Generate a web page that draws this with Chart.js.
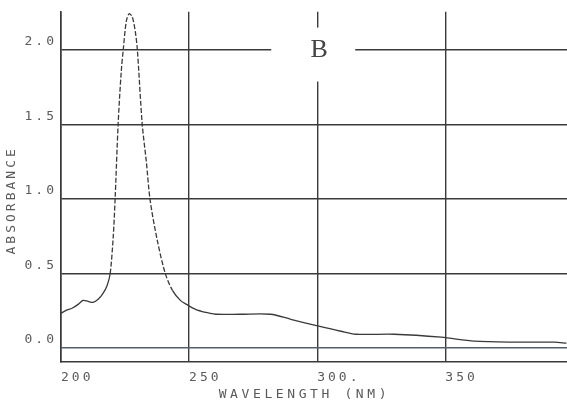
<!DOCTYPE html>
<html>
<head>
<meta charset="utf-8">
<script src="https://cdn.jsdelivr.net/npm/chart.js@4.4.1/dist/chart.umd.min.js"></script>
<style>
  html, body { margin: 0; padding: 0; background: #fff; }
  #wrap { width: 567px; height: 404px; }
</style>
</head>
<body>
<div id="wrap"><canvas id="spec" width="567" height="404"></canvas></div>
<script>
// wavelength (nm) and absorbance
const wavelengths = [200, 202, 204.3, 206.7, 208.6, 210.6, 212.5, 214.5, 216.4, 218, 219.2,
  220.4, 221.1, 222.3, 223.5, 224.3, 225.5, 226.6, 227.8, 229, 229.8, 231.7, 233.3, 234.8,
  237.6, 240.7, 243.5, 246.6, 249, 252.5, 256.4, 260.3, 270, 281.8, 289.7, 300.6, 309.2,
  315.1, 330, 348.4, 361.3, 377, 392.6, 397.3];
const absorbance = [0.233, 0.253, 0.267, 0.293, 0.32, 0.313, 0.307, 0.327, 0.367, 0.42, 0.5,
  0.75, 0.99, 1.5, 1.85, 2.0, 2.19, 2.24, 2.22, 2.12, 2.0, 1.5, 1.25, 0.99,
  0.72, 0.5, 0.387, 0.32, 0.293, 0.26, 0.24, 0.227, 0.227, 0.227, 0.193, 0.147, 0.113,
  0.093, 0.093, 0.073, 0.047, 0.04, 0.04, 0.033];

const xTicks = [200, 250, 300, 350];
const xTickLabels = ['200', '250', '300.', '350'];
const yTicks = [0, 0.5, 1.0, 1.5, 2.0];
const yTickLabels = ['0.0', '0.5', '1.0', '1.5', '2.0'];

const ink = '#3a3a3a';
const textInk = '#5a5a5a';
const mono = '"DejaVu Sans Mono", monospace';

const plotterText = {
  id: 'plotterText',
  beforeDraw(chart) {
    chart.ctx.letterSpacing = '3px';
  },
  afterDraw(chart) {
    const ctx = chart.ctx;
    const xs = chart.scales.x, ys = chart.scales.y;
    ctx.save();
    ctx.fillStyle = textInk;
    ctx.font = '13px ' + mono;
    ctx.letterSpacing = '3.6px';
    ctx.textAlign = 'center';
    ctx.textBaseline = 'middle';
    ctx.fillText('WAVELENGTH (NM)', xs.getPixelForValue(295), 395);

    ctx.save();
    ctx.translate(12, ys.getPixelForValue(0.99));
    ctx.rotate(-Math.PI / 2);
    ctx.letterSpacing = '3px';
    ctx.fillText('ABSORBANCE', 0, 0);
    ctx.restore();

    // "B" marker sitting on the 2.0 line
    const bx = xs.getPixelForValue(300.8);
    const by = ys.getPixelForValue(2.0);
    ctx.fillStyle = '#fff';
    ctx.fillRect(bx - 48, by - 22, 84, 54);
    ctx.letterSpacing = '0px';
    ctx.fillStyle = '#444';
    ctx.font = '26px "Liberation Serif", serif';
    ctx.fillText('B', bx, by + 1);
    ctx.restore();
  }
};

new Chart(document.getElementById('spec'), {
  type: 'line',
  data: {
    datasets: [{
      data: wavelengths.map((w, i) => ({ x: w, y: absorbance[i] })),
      borderColor: ink,
      borderWidth: 1.3,
      pointRadius: 0,
      tension: 0.3,
      segment: {
        borderDash: c => (c.p0.parsed.x >= 219 && c.p1.parsed.x <= 246) ? [5, 2] : undefined
      }
    }]
  },
  options: {
    responsive: false,
    animation: false,
    layout: { padding: { top: 10, right: 0, left: 0, bottom: 0 } },
    plugins: { legend: { display: false }, tooltip: { enabled: false } },
    scales: {
      x: {
        type: 'linear',
        min: 200,
        max: 397.5,
        afterBuildTicks: s => { s.ticks = xTicks.map(v => ({ value: v })); },
        afterFit: s => { s.height = 42; },
        ticks: {
          align: 'start',
          padding: 8,
          color: textInk,
          font: { family: mono, size: 13 },
          callback: v => xTickLabels[xTicks.indexOf(v)]
        },
        grid: { color: ink, lineWidth: 1.4, drawTicks: false },
        border: { color: ink, width: 1.6 }
      },
      y: {
        min: -0.093,
        max: 2.253,
        afterBuildTicks: s => { s.ticks = yTicks.map(v => ({ value: v })); },
        afterFit: s => { s.width = 61; },
        ticks: {
          padding: 4,
          labelOffset: -8,
          color: textInk,
          font: { family: mono, size: 13 },
          callback: v => yTickLabels[yTicks.indexOf(v)]
        },
        grid: {
          color: c => c.tick && c.tick.value === 0 ? '#55606a' : ink,
          lineWidth: 1.4,
          drawTicks: false
        },
        border: { color: ink, width: 1.6 }
      }
    }
  },
  plugins: [plotterText]
});
</script>
</body>
</html>
